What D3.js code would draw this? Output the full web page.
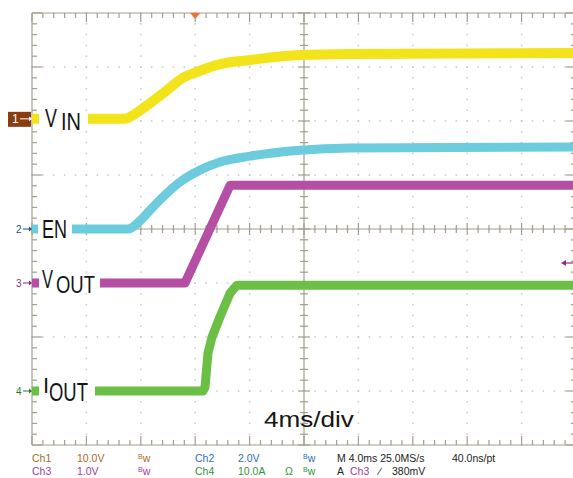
<!DOCTYPE html>
<html>
<head>
<meta charset="utf-8">
<script src="https://cdn.jsdelivr.net/npm/d3@7"></script>
<style>
  html, body { margin: 0; padding: 0; background: #fff; }
  svg { display: block; }
  .lbl { font-family: "Liberation Sans", Arial, sans-serif; fill: #151515; }
  .info { font-family: "Liberation Sans", "DejaVu Sans Condensed", sans-serif; font-size: 10.5px; }
</style>
</head>
<body>
<div id="chart"></div>
<script>
// ============================================================
// DATA  (time in ms, level in screen divisions from centre)
// ============================================================
const vinPts = [[0, 2.04], [6.84, 2.04], [7.43, 2.11], [8.68, 2.33], [9.93, 2.57], [11.1, 2.8],
  [12.35, 2.93], [13.6, 3.04], [16.03, 3.13], [19.71, 3.22], [23.38, 3.24], [40, 3.26]];
const enPts = [[0, 0], [7.06, 0], [7.94, 0.15], [8.68, 0.35], [9.78, 0.63], [10.88, 0.87],
  [12.35, 1.09], [13.82, 1.24], [16.03, 1.35], [19.71, 1.46], [23.38, 1.5], [40, 1.52]];
const voutPts = [[0, -1], [11.25, -1], [14.56, 0.81], [40, 0.81]];
const ioutPts = [[0, -3], [12.57, -3], [12.72, -2.93], [12.94, -2.3], [13.24, -2.0], [13.82, -1.63],
  [14.56, -1.19], [15.07, -1.04], [40, -1.04]];

const channels = ['1', '2', '3', '4'];
const chanLevels = [2.04, 0, -1, -3];
const chanColors = ['#f2e31b', '#6ccbdc', '#b44fa4', '#6cbf45'];
const markerColors = ['#8b3d12', '#1f4f8f', '#8a2e86', '#2a7a2a'];
const chanSeries = [vinPts, enPts, voutPts, ioutPts];
const chanSmooth = [true, true, false, false];

// label pieces: text, x, baseline offset from trace, font size, drawn width
const chanLabels = [
  [['V', 45, 8, 26, 12], ['IN', 61, 11, 24, 20]],
  [['EN', 42, 9, 25, 25]],
  [['V', 42, 5, 25, 11], ['OUT', 56, 10, 24, 39]],
  [['I', 43, 2, 22, 0], ['OUT', 49, 10, 25, 39]]
];
const labelSpans = [[39, 88], [38, 72], [39, 100], [39, 95]];

const triggerTime = 12.0;
const triggerLevel = -0.63;
const timebase = '4ms/div';

// info text: label, colour, x
const infoRow1 = [['Ch1', '#a86a2c', 32], ['10.0V', '#a86a2c', 77], ['Bw', '#a86a2c', 138], ['Ch2', '#2f6db5', 195],
  ['2.0V', '#2f6db5', 238], ['Bw', '#2f6db5', 303], ['M 4.0ms 25.0MS/s', '#222', 337], ['40.0ns/pt', '#222', 452]];
const infoRow2 = [['Ch3', '#a03c9c', 32], ['1.0V', '#a03c9c', 77], ['Bw', '#a03c9c', 138], ['Ch4', '#3a9040', 195],
  ['10.0A', '#3a9040', 238], ['\u03A9', '#3a9040', 285], ['Bw', '#3a9040', 303], ['A', '#222', 337],
  ['Ch3', '#a03c9c', 350], ['\u2215', '#222', 379], ['380mV', '#222', 392]];

// ============================================================
// SETUP
// ============================================================
const W = 573, H = 478;
const svg = d3.select('#chart').append('svg').attr('width', W).attr('height', H);

const x = d3.scaleLinear().domain([0, 40]).range([32, 576]);
const y = d3.scaleLinear().domain([-4, 4]).range([445, 13]);

const gridCol = '#a49e8c';
const dotCol = '#c8c8c8';

// squeeze a text horizontally to a given width (condensed look)
function squeeze(sel, px, py, width) {
  const nat = sel.node().getComputedTextLength();
  const k = width && nat ? width / nat : 1;
  sel.attr('x', 0).attr('y', 0).attr('transform', `translate(${px},${py}) scale(${k},1)`);
}

// ============================================================
// GRID
// ============================================================
const majX = d3.range(0, 41, 4);
const majY = d3.range(-4, 5, 1);
const minX = d3.range(0, 40.01, 0.8);
const minY = d3.range(-4, 4.01, 0.2);

const grid = svg.append('g');
majX.slice(1, -1).forEach(t => {
  grid.selectAll(null).data(minY).enter().append('rect')
    .attr('x', x(t) - 0.75).attr('y', d => y(d) - 0.75)
    .attr('width', 1.5).attr('height', 1.5).attr('fill', dotCol);
});
majY.slice(1, -1).forEach(v => {
  grid.selectAll(null).data(minX).enter().append('rect')
    .attr('x', d => x(d) - 0.75).attr('y', y(v) - 0.75)
    .attr('width', 1.5).attr('height', 1.5).attr('fill', dotCol);
});

const axisG = svg.append('g').attr('stroke', gridCol).attr('stroke-width', 1.2);
axisG.append('line').attr('x1', x(0)).attr('x2', x(40)).attr('y1', y(4)).attr('y2', y(4));
axisG.append('line').attr('x1', x(0)).attr('x2', x(40)).attr('y1', y(-4)).attr('y2', y(-4));
axisG.append('line').attr('x1', x(0)).attr('x2', x(0)).attr('y1', y(4)).attr('y2', y(-4));
axisG.append('line').attr('x1', x(40)).attr('x2', x(40)).attr('y1', y(4)).attr('y2', y(-4));
axisG.append('line').attr('x1', x(0)).attr('x2', x(40)).attr('y1', y(0)).attr('y2', y(0));
axisG.append('line').attr('x1', x(20)).attr('x2', x(20)).attr('y1', y(4)).attr('y2', y(-4));

const isMajX = t => Math.abs(t / 4 - Math.round(t / 4)) < 0.01;
const isMajY = v => Math.abs(v - Math.round(v)) < 0.01;

axisG.selectAll(null).data(minX).enter().append('line')
  .attr('x1', d => x(d)).attr('x2', d => x(d))
  .attr('y1', y(4)).attr('y2', d => y(4) + (isMajX(d) ? 9 : 5));
axisG.selectAll(null).data(minX).enter().append('line')
  .attr('x1', d => x(d)).attr('x2', d => x(d))
  .attr('y1', y(-4)).attr('y2', d => y(-4) - (isMajX(d) ? 9 : 5));
axisG.selectAll(null).data(minY).enter().append('line')
  .attr('y1', d => y(d)).attr('y2', d => y(d))
  .attr('x1', x(0)).attr('x2', d => x(0) + (isMajY(d) ? 10 : 5));
axisG.selectAll(null).data(minY).enter().append('line')
  .attr('y1', d => y(d)).attr('y2', d => y(d))
  .attr('x1', x(40)).attr('x2', d => x(40) - (isMajY(d) ? 10 : 5));
axisG.selectAll(null).data(minX).enter().append('line')
  .attr('x1', d => x(d)).attr('x2', d => x(d))
  .attr('y1', d => y(0) - (isMajX(d) ? 6 : 4)).attr('y2', d => y(0) + (isMajX(d) ? 6 : 4));
axisG.selectAll(null).data(minY).enter().append('line')
  .attr('y1', d => y(d)).attr('y2', d => y(d))
  .attr('x1', d => x(20) - (isMajY(d) ? 6 : 4)).attr('x2', d => x(20) + (isMajY(d) ? 6 : 4));

// ============================================================
// TRACES
// ============================================================
chanSeries.forEach((pts, i) => {
  const line = d3.line().x(d => x(d[0])).y(d => y(d[1]))
    .curve(chanSmooth[i] ? d3.curveMonotoneX : d3.curveLinear);
  svg.append('path').datum(pts)
    .attr('d', line)
    .attr('fill', 'none')
    .attr('stroke', chanColors[i])
    .attr('stroke-width', i === 0 ? 10 : 9)
    .attr('stroke-linejoin', 'round');
});

// ============================================================
// TRACE LABELS
// ============================================================
const labelG = svg.append('g');
chanLevels.forEach((lv, i) => {
  const yy = y(lv);
  labelG.append('rect')
    .attr('x', labelSpans[i][0]).attr('y', yy - 7)
    .attr('width', labelSpans[i][1] - labelSpans[i][0]).attr('height', 14)
    .attr('fill', '#fff');
  chanLabels[i].forEach(p => {
    const t = labelG.append('text').attr('class', 'lbl').attr('font-size', p[3]).text(p[0]);
    squeeze(t, p[1], yy + p[2], p[4]);
  });
});

// ============================================================
// CHANNEL MARKERS
// ============================================================
const mk = svg.append('g');
channels.forEach((c, i) => {
  const yy = y(chanLevels[i]);
  if (i === 0) {
    mk.append('rect').attr('x', 8).attr('y', yy - 7).attr('width', 23).attr('height', 15)
      .attr('fill', markerColors[i]);
  }
  const col = i === 0 ? '#fff' : markerColors[i];
  mk.append('text').attr('x', i === 0 ? 12 : 16).attr('y', yy + 4)
    .attr('font-family', 'Liberation Sans, sans-serif')
    .attr('font-size', i === 0 ? 12 : 10).attr('fill', col).text(c);
  mk.append('line').attr('x1', i === 0 ? 20 : 23).attr('x2', 29).attr('y1', yy).attr('y2', yy)
    .attr('stroke', col).attr('stroke-width', 1);
  mk.append('path').attr('d', `M29,${yy - 2.5} L32,${yy} L29,${yy + 2.5} Z`).attr('fill', col);
});

// trigger position (top) and trigger level (right)
svg.append('path')
  .attr('d', `M${x(triggerTime) - 5},${y(4)} L${x(triggerTime) + 5},${y(4)} L${x(triggerTime)},${y(4) + 6} Z`)
  .attr('fill', '#f07030');
const ty = y(triggerLevel);
svg.append('line').attr('x1', 563).attr('x2', 573).attr('y1', ty).attr('y2', ty)
  .attr('stroke', '#8a2e86').attr('stroke-width', 1.2);
svg.append('path').attr('d', `M561,${ty} L566,${ty - 3} L566,${ty + 3} Z`).attr('fill', '#8a2e86');

// timebase
const tb = svg.append('text').attr('class', 'lbl').attr('font-size', 22).text(timebase);
squeeze(tb, 264, 427, 90);

// ============================================================
// INFO ROWS
// ============================================================
function infoRow(row, base) {
  row.forEach(cell => {
    const t = svg.append('text').attr('class', 'info').attr('x', cell[2]).attr('y', base).attr('fill', cell[1]);
    if (cell[0] === 'Bw') {
      t.append('tspan').attr('font-size', 7).attr('dy', -3).text('B');
      t.append('tspan').attr('dy', 3).text('w');
    } else {
      t.text(cell[0]);
    }
  });
}
infoRow(infoRow1, 462);
infoRow(infoRow2, 475);
</script>
</body>
</html>
